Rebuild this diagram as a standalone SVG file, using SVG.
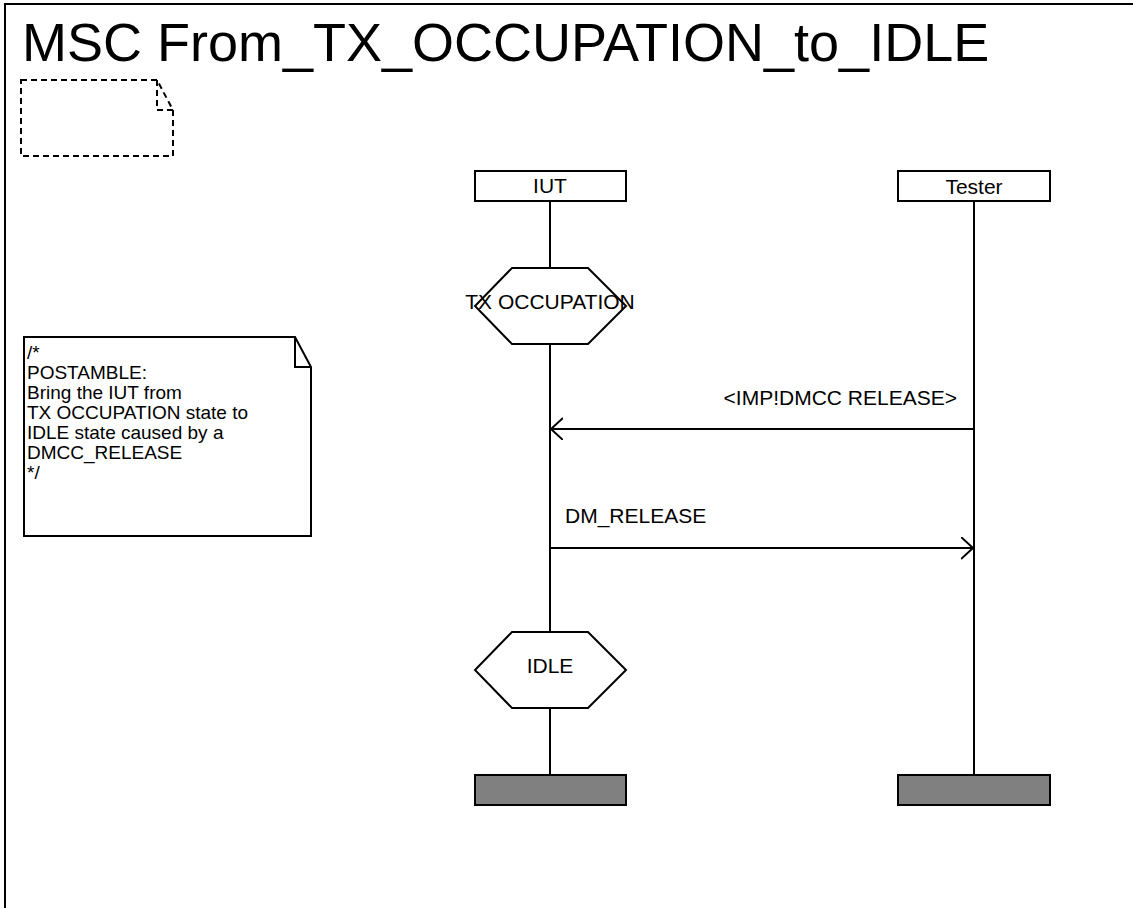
<svg xmlns="http://www.w3.org/2000/svg" width="1133" height="908" viewBox="0 0 1133 908">
<defs>
<style>
.t{font-family:"Liberation Sans",Arial,sans-serif;fill:#000}
.s{fill:#fff;stroke:#000;stroke-width:2}
.ln{stroke:#000;stroke-width:2;fill:none}
.end{fill:#808080;stroke:#000;stroke-width:2}
</style>
<marker id="open" markerWidth="14" markerHeight="24" refX="12" refY="11" orient="auto" markerUnits="userSpaceOnUse">
<path d="M0,0 L12,11 L0,22" fill="none" stroke="#000" stroke-width="2"/>
</marker>
</defs>
<rect width="1133" height="908" fill="#fff"/>
<g id="frame">
<path d="M5,910 L5,4 L1140,4" class="ln"/>
<text class="t" x="22" y="61" font-size="54">MSC From_TX_OCCUPATION_to_IDLE</text>
<path d="M21,80 L157,80 L173,110 L173,156 L21,156 Z M157,80 L157,110 L173,110" fill="none" stroke="#000" stroke-width="2" stroke-dasharray="6,4"/>
</g>
<g id="connectors">
<line x1="550" y1="201" x2="550" y2="775" class="ln"/>
<line x1="974" y1="201" x2="974" y2="775" class="ln"/>
<line x1="974" y1="429" x2="551" y2="429" class="ln" marker-end="url(#open)"/>
<text class="t" x="957" y="405" font-size="21" text-anchor="end">&lt;IMP!DMCC RELEASE&gt;</text>
<line x1="550" y1="548" x2="973" y2="548" class="ln" marker-end="url(#open)"/>
<text class="t" x="565" y="523" font-size="21">DM_RELEASE</text>
</g>
<g id="iut">
<rect x="475" y="171" width="151" height="30" class="s"/>
<text class="t" x="550" y="193" font-size="21" text-anchor="middle">IUT</text>
</g>
<g id="tester">
<rect x="898" y="171" width="152" height="30" class="s"/>
<text class="t" x="974" y="194" font-size="21" text-anchor="middle">Tester</text>
</g>
<g id="state-tx">
<polygon points="512,268 588,268 626,306 588,344 512,344 475,306" class="s"/>
<text class="t" x="550" y="309" font-size="21" text-anchor="middle">TX OCCUPATION</text>
</g>
<g id="note">
<path d="M24,337 L295,337 L311,367 L311,536 L24,536 Z" class="s"/>
<path d="M295,337 L295,367 L311,367" class="ln"/>
<text class="t" font-size="19">
<tspan x="27" y="359">/*</tspan>
<tspan x="27" y="379">POSTAMBLE:</tspan>
<tspan x="27" y="399">Bring the IUT from</tspan>
<tspan x="27" y="419">TX OCCUPATION state to</tspan>
<tspan x="27" y="439">IDLE state caused by a</tspan>
<tspan x="27" y="459">DMCC_RELEASE</tspan>
<tspan x="27" y="479">*/</tspan>
</text>
</g>
<g id="state-idle">
<polygon points="512,632 588,632 626,670 588,708 512,708 475,670" class="s"/>
<text class="t" x="550" y="673" font-size="21" text-anchor="middle">IDLE</text>
</g>
<g id="end-iut">
<rect x="475" y="775" width="151" height="30" class="end"/>
</g>
<g id="end-tester">
<rect x="898" y="775" width="152" height="30" class="end"/>
</g>
</svg>
